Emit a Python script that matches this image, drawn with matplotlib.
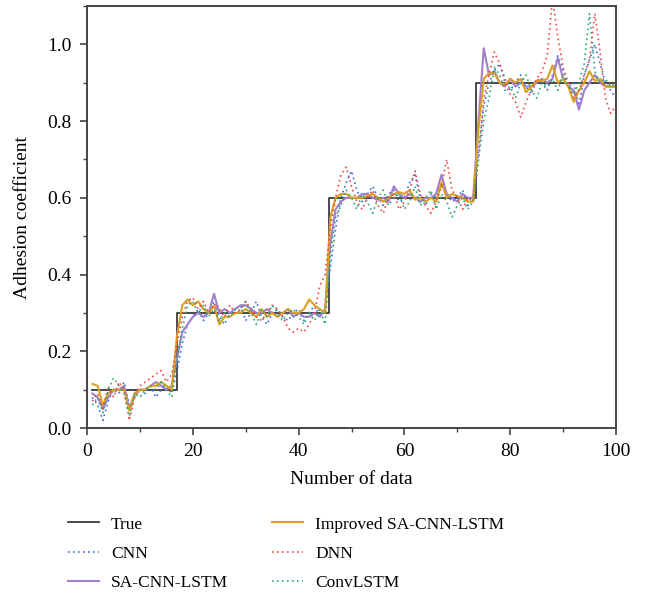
import numpy as np
import matplotlib.pyplot as plt
from matplotlib.ticker import MultipleLocator

plt.rcParams['font.family'] = ['Liberation Serif', 'DejaVu Serif']

# sample index of the predicted series
idx = np.arange(1, 101)

# true adhesion coefficient (step profile)
true_x = [1, 17, 17, 45.7, 45.7, 73.5, 73.5, 100]
true_y = [0.1, 0.1, 0.3, 0.3, 0.6, 0.6, 0.9, 0.9]

cnn = [0.08, 0.06, 0.02, 0.07, 0.10, 0.09, 0.12, 0.06, 0.08, 0.10, 0.09, 0.11, 0.08, 0.10, 0.11, 0.09,
       0.15, 0.22, 0.27, 0.29, 0.31, 0.28, 0.30, 0.33, 0.29, 0.27, 0.30, 0.31, 0.32, 0.28, 0.30, 0.33,
       0.29, 0.27, 0.30, 0.31, 0.29, 0.28, 0.30, 0.31, 0.28, 0.30, 0.32, 0.29, 0.31,
       0.42, 0.52, 0.60, 0.64, 0.67, 0.62, 0.59, 0.61, 0.63, 0.60, 0.58, 0.61, 0.62, 0.59, 0.60, 0.64,
       0.66, 0.60, 0.58, 0.61, 0.60, 0.63, 0.61, 0.59, 0.60, 0.62, 0.58, 0.60, 0.72,
       0.84, 0.90, 0.93, 0.95, 0.91, 0.88, 0.90, 0.92, 0.89, 0.87, 0.91, 0.90, 0.88, 0.92, 0.97, 0.93,
       0.89, 0.90, 0.84, 0.92, 0.96, 1.00, 0.95, 0.90, 0.88, 0.86]

sa_cnn_lstm = [0.09, 0.08, 0.05, 0.08, 0.10, 0.10, 0.11, 0.05, 0.09, 0.10, 0.10, 0.11, 0.12, 0.11, 0.10, 0.11,
               0.18, 0.25, 0.27, 0.29, 0.30, 0.29, 0.30, 0.35, 0.30, 0.31, 0.30, 0.31, 0.32, 0.32, 0.31, 0.30,
               0.30, 0.31, 0.30, 0.29, 0.30, 0.31, 0.29, 0.30, 0.29, 0.29, 0.30, 0.29, 0.31,
               0.48, 0.57, 0.59, 0.60, 0.60, 0.60, 0.61, 0.61, 0.60, 0.595, 0.60, 0.59, 0.63, 0.61, 0.60, 0.61,
               0.60, 0.59, 0.60, 0.60, 0.61, 0.66, 0.61, 0.60, 0.59, 0.61, 0.60, 0.60, 0.80,
               0.99, 0.92, 0.93, 0.90, 0.89, 0.91, 0.89, 0.90, 0.89, 0.89, 0.90, 0.91, 0.90, 0.91, 0.965, 0.91,
               0.89, 0.88, 0.83, 0.88, 0.90, 0.92, 0.90, 0.89, 0.89, 0.89]

improved = [0.115, 0.11, 0.06, 0.09, 0.10, 0.10, 0.10, 0.045, 0.09, 0.10, 0.10, 0.11, 0.11, 0.12, 0.11, 0.10,
            0.24, 0.32, 0.335, 0.32, 0.33, 0.31, 0.30, 0.32, 0.27, 0.29, 0.29, 0.30, 0.30, 0.31, 0.30, 0.29,
            0.31, 0.29, 0.30, 0.29, 0.30, 0.31, 0.30, 0.30, 0.31, 0.335, 0.32, 0.31, 0.30,
            0.55, 0.60, 0.61, 0.61, 0.60, 0.60, 0.60, 0.605, 0.61, 0.60, 0.59, 0.60, 0.61, 0.615, 0.61, 0.62,
            0.595, 0.60, 0.59, 0.60, 0.59, 0.64, 0.60, 0.61, 0.605, 0.60, 0.59, 0.59, 0.78,
            0.91, 0.925, 0.925, 0.90, 0.895, 0.91, 0.90, 0.91, 0.875, 0.89, 0.905, 0.905, 0.91, 0.945, 0.90,
            0.91, 0.89, 0.85, 0.88, 0.90, 0.93, 0.905, 0.91, 0.89, 0.89, 0.89]

dnn = [0.07, 0.09, 0.05, 0.11, 0.08, 0.12, 0.10, 0.02, 0.08, 0.11, 0.12, 0.13, 0.14, 0.15, 0.12, 0.14,
       0.22, 0.29, 0.33, 0.34, 0.31, 0.33, 0.30, 0.32, 0.31, 0.29, 0.32, 0.30, 0.31, 0.33, 0.31, 0.29,
       0.28, 0.30, 0.32, 0.31, 0.29, 0.26, 0.25, 0.26, 0.25, 0.27, 0.30, 0.37, 0.40,
       0.52, 0.60, 0.66, 0.68, 0.63, 0.59, 0.57, 0.60, 0.62, 0.58, 0.56, 0.60, 0.61, 0.57, 0.59, 0.62,
       0.67, 0.61, 0.58, 0.56, 0.59, 0.63, 0.70, 0.62, 0.60, 0.57, 0.60, 0.59, 0.70,
       0.86, 0.92, 0.98, 0.95, 0.90, 0.87, 0.85, 0.81, 0.85, 0.88, 0.91, 0.93, 0.97, 1.12, 1.02,
       0.94, 0.90, 0.86, 0.88, 0.92, 0.96, 1.08, 0.98, 0.86, 0.82, 0.84]

convlstm = [0.06, 0.08, 0.04, 0.10, 0.13, 0.11, 0.09, 0.03, 0.09, 0.08, 0.10, 0.11, 0.10, 0.12, 0.10, 0.08,
            0.18, 0.26, 0.32, 0.33, 0.30, 0.32, 0.29, 0.31, 0.28, 0.30, 0.29, 0.31, 0.30, 0.33, 0.30, 0.27,
            0.31, 0.29, 0.32, 0.30, 0.28, 0.30, 0.31, 0.29, 0.27, 0.30, 0.28, 0.31, 0.27,
            0.45, 0.55, 0.58, 0.62, 0.60, 0.57, 0.61, 0.59, 0.56, 0.60, 0.62, 0.58, 0.60, 0.61, 0.57, 0.59,
            0.63, 0.58, 0.60, 0.62, 0.57, 0.61, 0.59, 0.55, 0.58, 0.60, 0.57, 0.59, 0.70,
            0.80, 0.86, 0.94, 0.92, 0.88, 0.89, 0.86, 0.90, 0.92, 0.88, 0.86, 0.90, 0.89, 0.91, 0.88, 0.92,
            0.89, 0.87, 0.90, 0.95, 1.08, 0.93, 0.90, 0.91, 0.89, 0.90]

fig = plt.figure(figsize=(6.45, 5.97), dpi=100)
ax = fig.add_axes([0.135, 0.283, 0.82, 0.707])

ax.plot(true_x, true_y, color='#3a3a3a', lw=1.3, label='True')
ax.plot(idx, cnn, color='#3a6fd8', lw=1.2, ls=(0, (1, 2)), label='CNN')
ax.plot(idx, sa_cnn_lstm, color='#a07fd0', lw=1.5, label='SA-CNN-LSTM')
ax.plot(idx, improved, color='#d9a021', lw=1.5, label='Improved SA-CNN-LSTM')
ax.plot(idx, dnn, color='#f04848', lw=1.2, ls=(0, (1, 2)), label='DNN')
ax.plot(idx, convlstm, color='#30a870', lw=1.2, ls=(0, (1, 2)), label='ConvLSTM')

ax.set_xlim(0, 100)
ax.set_ylim(0, 1.1)
ax.xaxis.set_major_locator(MultipleLocator(20))
ax.xaxis.set_minor_locator(MultipleLocator(10))
ax.yaxis.set_major_locator(MultipleLocator(0.2))
ax.yaxis.set_minor_locator(MultipleLocator(0.1))
ax.tick_params(which='major', direction='out', length=5, width=1.2, labelsize=14,
               pad=6, color='#444444')
ax.tick_params(which='minor', direction='out', length=3, width=1.0, color='#444444')
for sp in ax.spines.values():
    sp.set_color('#444444')
    sp.set_linewidth(1.4)

ax.set_xlabel('Number of data', fontsize=14, labelpad=8)
ax.set_ylabel('Adhesion coefficient', fontsize=14, labelpad=12)

fig.legend(loc='upper left', bbox_to_anchor=(0.105, 0.135), ncol=2, frameon=False,
           fontsize=12.5, handlelength=1.8, handletextpad=0.7, columnspacing=2.5,
           labelspacing=0.75, borderpad=0, borderaxespad=0)

fig.savefig('out.png', dpi=100)
